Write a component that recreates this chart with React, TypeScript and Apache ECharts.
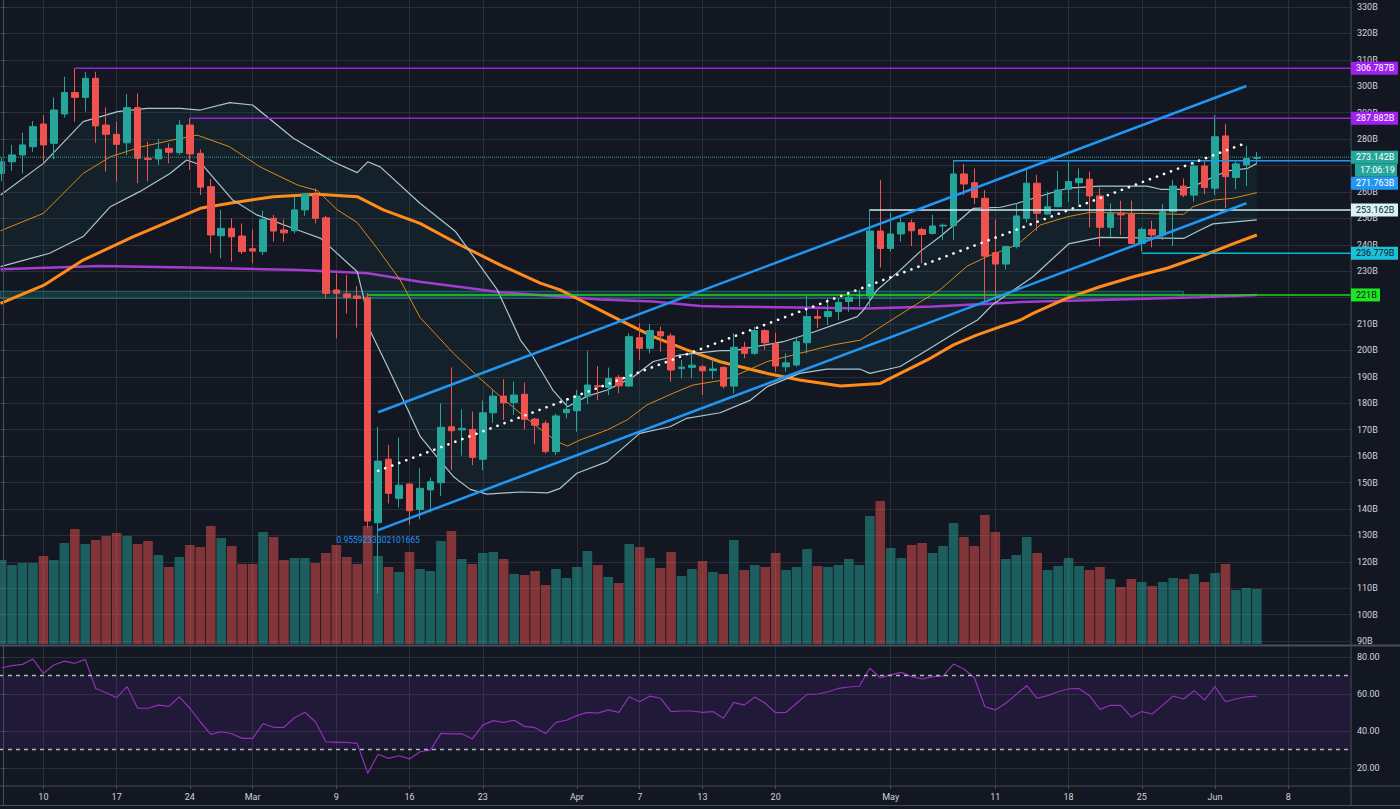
import React, { useEffect, useRef } from "react";
import * as echarts from "echarts";

// x = day index, 0 = 2020-02-06 (one candle per calendar day)
const opens = [
  267.0, 271.4, 274.0, 277.1, 285.7, 278.4, 289.5, 297.6, 295.8, 303.0,
  285.3, 281.8, 278.6, 291.9, 272.7, 272.5, 276.5, 274.9, 285.3, 274.6,
  262.0, 243.4, 246.2, 243.3, 238.5, 237.4, 250.0, 245.6, 245.3, 253.2,
  258.8, 250.2, 222.9, 221.4, 220.6, 220.0, 134.8, 158.8, 144.0, 149.4,
  139.8, 147.2, 149.9, 171.1, 169.9, 170.1, 158.8, 176.4, 182.7, 180.3,
  183.4, 174.0, 172.4, 161.7, 176.4, 177.2, 182.7, 186.6, 186.0, 189.8,
  186.5, 204.8, 200.8, 207.1, 205.5, 193.2, 193.6, 193.8, 192.4, 193.6,
  186.5, 201.2, 198.9, 207.5, 202.6, 193.8, 194.5, 202.9, 212.8, 212.8,
  214.7, 218.5, 220.7, 220.6, 245.2, 238.6, 244.1, 248.3, 245.8, 244.3,
  247.1, 247.2, 266.8, 263.5, 257.6, 237.0, 232.7, 239.3, 250.0, 263.3,
  251.6, 254.4, 261.0, 263.5, 264.8, 258.5, 246.6, 251.9, 251.6, 240.5,
  245.8, 243.7, 252.5, 262.2, 258.8, 269.8, 261.4, 281.2, 265.5, 270.2,
  272.7,
];
const closes = [
  271.4, 274.0, 277.8, 284.7, 277.8, 291.0, 297.6, 295.8, 303.0, 285.0,
  281.8, 278.0, 291.9, 272.7, 272.3, 276.1, 275.0, 285.3, 274.4, 261.8,
  243.7, 246.2, 243.0, 237.4, 237.6, 249.6, 245.2, 244.5, 253.2, 259.2,
  250.0, 221.6, 221.6, 220.1, 219.7, 135.4, 158.1, 145.9, 149.0, 139.3,
  147.8, 150.3, 170.9, 169.6, 170.5, 159.5, 176.4, 182.7, 180.2, 183.1,
  173.9, 171.7, 161.7, 175.2, 177.7, 182.7, 186.9, 186.3, 189.4, 186.6,
  205.2, 200.8, 207.5, 205.5, 192.6, 193.7, 194.4, 192.3, 193.0, 186.5,
  201.2, 198.9, 207.5, 202.9, 194.1, 195.3, 203.3, 212.8, 212.2, 214.7,
  218.2, 220.1, 220.9, 245.2, 238.6, 244.1, 248.3, 245.3, 243.9, 247.1,
  247.4, 266.8, 263.0, 257.9, 235.7, 232.7, 239.3, 250.9, 263.3, 251.9,
  254.4, 260.7, 263.9, 265.1, 258.5, 246.6, 251.9, 251.3, 240.5, 245.8,
  243.7, 252.5, 262.2, 258.8, 269.8, 261.7, 280.9, 265.8, 270.6, 272.7,
  273.1,
];
const lows = [
  264.0, 268.0, 267.0, 275.2, 271.4, 272.4, 288.2, 286.6, 290.4, 278.6,
  267.7, 263.9, 274.0, 263.3, 264.0, 270.2, 270.8, 274.0, 268.3, 258.8,
  236.8, 234.9, 233.6, 236.5, 233.0, 236.1, 241.2, 241.2, 244.3, 251.0,
  248.1, 219.7, 204.6, 214.0, 208.7, 133.0, 108.0, 142.1, 140.6, 134.0,
  136.0, 138.6, 144.9, 154.7, 160.2, 156.6, 154.7, 172.6, 173.7, 175.6,
  170.1, 164.6, 161.0, 160.4, 174.3, 169.2, 179.7, 181.2, 183.1, 183.8,
  186.2, 196.4, 198.9, 199.5, 188.2, 189.4, 189.4, 183.1, 189.1, 185.6,
  183.7, 197.0, 198.3, 200.2, 192.0, 192.0, 193.8, 198.9, 208.4, 209.6,
  211.5, 214.6, 216.6, 216.6, 231.4, 237.4, 241.2, 239.5, 233.0, 243.9,
  241.8, 241.8, 258.8, 255.4, 218.4, 218.4, 230.7, 238.6, 248.4, 245.3,
  251.3, 254.2, 256.3, 255.4, 246.6, 239.3, 243.0, 243.7, 240.3, 237.4,
  239.0, 241.8, 239.5, 258.0, 256.3, 259.2, 258.8, 253.8, 261.0, 262.2,
  270.8,
];
const highs = [
  273.0, 277.8, 282.4, 286.8, 289.1, 295.8, 303.6, 306.8, 305.5, 305.5,
  292.0, 286.6, 297.0, 297.3, 279.0, 280.0, 278.4, 287.2, 287.9, 276.1,
  264.8, 253.2, 250.0, 248.1, 245.8, 252.9, 251.3, 249.6, 258.2, 259.5,
  261.4, 250.9, 229.2, 228.6, 224.4, 221.7, 171.1, 164.2, 167.0, 149.7,
  155.4, 151.9, 180.0, 193.6, 177.7, 176.8, 181.0, 185.0, 189.1, 188.2,
  187.8, 174.5, 173.4, 176.0, 181.9, 185.0, 199.8, 194.1, 193.5, 190.7,
  206.5, 210.3, 210.0, 209.0, 206.5, 196.4, 198.9, 194.5, 196.6, 193.9,
  206.5, 203.3, 209.0, 208.0, 206.7, 198.9, 204.8, 220.6, 215.5, 219.7,
  219.7, 222.2, 223.1, 253.4, 264.5, 252.1, 250.4, 249.6, 246.5, 251.3,
  248.1, 272.1, 270.6, 268.9, 260.7, 249.6, 239.5, 255.7, 268.9, 266.4,
  260.1, 268.0, 271.5, 268.9, 267.7, 261.7, 255.7, 256.7, 256.7, 246.5,
  249.1, 255.4, 264.5, 265.1, 271.5, 271.5, 289.1, 285.7, 271.5, 277.4,
  275.2,
];
const volumes = [
  84, 79, 81, 81, 88, 84, 101, 115, 100, 104,
  108, 111, 108, 100, 103, 89, 77, 87, 99, 97,
  118, 106, 98, 80, 80, 112, 107, 84, 86, 86,
  81, 91, 99, 87, 80, 118, 88, 77, 72, 92,
  75, 73, 103, 113, 85, 80, 91, 92, 85, 70,
  69, 73, 59, 75, 66, 77, 93, 79, 67, 61,
  100, 97, 86, 76, 92, 68, 75, 83, 72, 70,
  104, 74, 79, 77, 91, 74, 77, 95, 78, 77,
  79, 85, 79, 128, 143, 96, 86, 99, 101, 91,
  98, 121, 107, 98, 129, 112, 85, 89, 107, 91,
  74, 78, 86, 78, 74, 77, 65, 57, 65, 62,
  58, 62, 66, 65, 70, 62, 71, 80, 54, 56,
  55,
];
const rsiValues = [
  74.2, 75.3, 76.0, 78.9, 71.2, 75.7, 77.8, 76.6, 78.7, 63.0,
  60.7, 58.0, 64.0, 52.3, 52.3, 54.0, 53.3, 58.5, 52.3, 45.0,
  38.2, 39.6, 38.5, 36.0, 36.0, 44.0, 42.0, 42.0, 47.2, 50.1,
  45.0, 34.2, 33.9, 33.9, 33.3, 17.1, 27.4, 25.2, 26.6, 24.9,
  28.8, 29.7, 38.7, 38.5, 38.5, 35.7, 43.2, 45.6, 44.7, 45.8,
  42.5, 41.8, 38.6, 44.7, 45.8, 48.3, 50.1, 49.7, 51.4, 50.1,
  58.5, 55.8, 58.9, 57.7, 50.5, 50.8, 50.8, 50.1, 50.5, 46.9,
  55.5, 54.0, 58.4, 55.0, 49.9, 50.1, 55.0, 59.8, 60.0, 61.2,
  63.0, 63.8, 64.2, 73.9, 68.8, 70.3, 71.7, 69.4, 68.1, 69.4,
  69.7, 76.2, 73.5, 68.8, 53.1, 51.4, 55.0, 59.8, 64.5, 57.7,
  59.1, 61.2, 62.7, 63.0, 59.1, 51.7, 53.9, 53.9, 47.6, 50.5,
  49.2, 54.0, 58.9, 57.3, 61.8, 56.8, 64.0, 55.8, 57.3, 58.5,
  58.9,
];

const dateTickIndex = [4, 11, 18, 24, 32, 39, 46, 55, 61, 67, 74, 85, 95, 102, 109, 116, 123];
const dateTickLabels = ["10", "17", "24", "Mar", "9", "16", "23", "Apr", "7", "13", "20", "May", "11", "18", "25", "Jun", "8"];
const priceTicks = [90, 100, 110, 120, 130, 140, 150, 160, 170, 180, 190, 200, 210, 220, 230, 240, 250, 260, 270, 280, 290, 300, 310, 320, 330];
// 270B sits fully under the last-price tags in the reference, so it carries no visible label
const priceLabelTicks = [90, 100, 110, 120, 130, 140, 150, 160, 170, 180, 190, 200, 210, 220, 230, 240, 250, 260, 280, 290, 300, 310, 320, 330];
const rsiTicks = [20, 40, 60, 80];

// indicator curves: [day index, value]
const bbUpper = [
  [-0.1, 258.8], [4.0, 270.8], [7.8, 286.6], [11.1, 290.4], [13.9, 291.6], [17.1, 291.6], [19.0, 291.0],
  [21.8, 293.8], [24.0, 292.9], [27.9, 280.3], [31.7, 271.4], [34.0, 267.3], [35.0, 271.4], [36.2, 269.5],
  [40.0, 255.7], [43.4, 245.0], [47.4, 222.9], [49.6, 203.9], [50.8, 197.6], [52.7, 185.0], [54.1, 178.7],
  [56.0, 182.7], [57.9, 185.0], [60.4, 190.0], [62.3, 195.8], [64.9, 198.3], [68.7, 199.9], [70.0, 199.9],
  [74.7, 203.3], [77.3, 206.5], [79.5, 209.6], [81.8, 212.8], [82.4, 215.3], [83.7, 222.9], [85.9, 230.4],
  [87.8, 237.4], [89.7, 243.0], [91.6, 249.4], [92.9, 253.8], [95.5, 254.2], [97.1, 255.7], [100.2, 259.5],
  [101.9, 261.4], [105.0, 262.2], [109.5, 262.2], [110.8, 261.0], [112.7, 261.0], [113.9, 262.0],
  [115.2, 264.5], [117.2, 268.0], [119.1, 268.9], [120.0, 270.8],
];
const bbLower = [
  [-0.1, 231.7], [4.6, 236.8], [7.8, 243.1], [10.4, 254.4], [13.2, 260.1], [16.1, 267.0], [17.7, 272.1],
  [19.3, 269.8], [22.1, 256.9], [24.4, 251.3], [28.5, 245.3], [30.5, 242.4], [34.0, 229.8], [34.6, 220.3],
  [35.2, 207.7], [36.9, 193.8], [38.4, 181.2], [40.0, 167.6], [41.6, 159.8], [43.2, 152.2], [44.8, 147.4],
  [46.4, 145.6], [49.6, 146.4], [52.2, 146.1], [53.4, 147.8], [55.0, 153.5], [57.9, 157.9], [61.0, 168.6],
  [63.9, 171.1], [65.5, 174.3], [68.7, 176.4], [71.6, 181.2], [73.2, 186.3], [76.3, 191.3], [78.9, 192.9],
  [82.1, 192.9], [83.0, 191.3], [85.9, 193.9], [88.5, 200.2], [91.6, 207.7], [93.3, 211.5], [94.8, 217.5],
  [98.6, 227.9], [102.0, 240.3], [105.0, 242.8], [113.0, 242.4], [114.3, 245.0], [115.8, 247.9], [120.0, 249.4],
];
const bbBasis = [
  [-0.1, 245.3], [4.0, 251.9], [7.8, 267.0], [10.4, 273.3], [13.2, 276.9], [16.4, 279.7], [18.7, 281.5],
  [21.8, 277.1], [24.7, 269.5], [28.3, 262.6], [30.2, 260.5], [32.1, 253.2], [34.0, 248.4], [35.9, 238.7],
  [38.1, 226.7], [40.0, 212.5], [43.2, 198.9], [45.7, 189.5], [47.7, 182.5], [49.6, 176.2], [51.2, 171.1],
  [53.1, 165.5], [54.1, 163.8], [55.3, 166.1], [57.9, 169.9], [59.8, 173.7], [61.7, 179.4], [64.2, 183.8],
  [66.1, 186.9], [68.7, 188.6], [69.9, 190.0], [73.2, 195.8], [76.3, 198.9], [79.5, 202.1], [82.1, 203.9],
  [84.6, 210.3], [87.1, 216.6], [89.7, 222.9], [92.3, 231.9], [94.2, 235.5], [97.1, 240.0], [99.3, 247.5],
  [101.9, 250.6], [104.1, 252.3], [108.2, 251.9], [113.0, 251.5], [113.9, 254.4], [115.8, 256.9],
  [117.7, 257.6], [120.0, 259.7],
];
const ma50 = [
  [-0.1, 217.8], [4.0, 224.6], [7.8, 234.2], [12.6, 243.1], [16.4, 249.4], [19.0, 253.8], [22.1, 255.9],
  [26.0, 258.2], [30.2, 259.1], [34.0, 258.2], [36.5, 253.2], [40.0, 248.1], [43.8, 240.0], [47.7, 232.3],
  [51.5, 225.5], [53.4, 222.9], [59.1, 211.5], [62.3, 205.2], [65.5, 200.2], [68.7, 195.7], [73.2, 191.3],
  [76.3, 188.8], [80.2, 186.5], [84.0, 187.5], [85.9, 191.3], [88.5, 196.4], [91.0, 202.1], [93.2, 205.8],
  [95.5, 209.0], [97.4, 211.5], [98.6, 214.0], [101.8, 219.7], [105.0, 224.1], [108.2, 227.9], [111.4, 231.1],
  [114.6, 235.5], [117.7, 240.3], [120.0, 243.7],
];
const ma200 = [
  [-0.1, 230.7], [9.4, 232.0], [19.0, 231.3], [28.5, 230.4], [35.0, 229.2], [40.0, 226.0], [47.7, 222.0],
  [57.2, 219.3], [62.3, 218.5], [66.8, 216.8], [68.7, 216.6], [82.7, 215.9], [89.1, 216.6], [97.4, 218.3],
  [105.0, 219.1], [114.6, 220.1], [120.0, 221.0],
];

const channelUpper = [[36, 176.6], [119, 300.1]];
const channelLower = [[36, 132.0], [119, 255.7]];
const regression = [[36, 154.4], [119, 278.6]];
const regressionLabel = "0.9559233302101665";
const regressionLabelPrice = 128.3;

const levelValues = [306.787, 287.882, 273.142, 271.763, 253.162, 236.779, 221];
const levelStart = [7, 18, -0.15, 91, 83, 109, 35];
const levelLabels = ["306.787B", "287.882B", "273.142B", "271.763B", "253.162B", "236.779B", "221B"];
const countdownLabel = "17:06:19";
const zoneLow = 219.7;
const zoneHigh = 222.4;
const zoneEnd = 113;

export default function App() {
  const ref = useRef<HTMLDivElement>(null);

  useEffect(() => {
    if (!ref.current) return;
    const chart = echarts.init(ref.current, null, { renderer: "svg" });

    const X_MIN = -0.15;
    const X_MAX = 129;
    const GRID = "#2a2e39";
    const EDGE = "#4a4e5a";
    const TXT = "#d1d4dc";
    const UP = "#26a69a";
    const DOWN = "#ef5350";
    const FONT = "Roboto, 'Noto Sans', sans-serif";
    const levelColors = ["#9326d9", "#9326d9", "#26a69a", "#2196f3", "#cdeef4", "#00bcd4", "#22d322"];
    const tagBg = ["#a020f0", "#a020f0", "#26a69a", "#2196f3", "#d6f3f8", "#1cc0d8", "#1fe61f"];
    const tagFg = ["#ffffff", "#ffffff", "#ffffff", "#ffffff", "#131722", "#131722", "#131722"];

    const candleData = opens.map((o, i) => [i, o, closes[i], lows[i], highs[i]]);
    const volumeData = volumes.map((v, i) => ({
      value: [i, v],
      itemStyle: { color: closes[i] >= opens[i] ? "rgba(38,166,154,0.5)" : "rgba(239,83,80,0.5)" },
    }));
    const rsiData = rsiValues.map((v, i) => [i, v]);
    const dateLabel = (v: number) => {
      const k = dateTickIndex.indexOf(Math.round(v));
      return k >= 0 ? dateTickLabels[k] : "";
    };

    const line = (data: number[][], color: string, width: number, extraStyle: any = {}, z = 4) => ({
      type: "line",
      xAxisIndex: 0,
      yAxisIndex: 0,
      data,
      symbol: "none",
      silent: true,
      z,
      lineStyle: { color, width, ...extraStyle },
    });

    const labelStyle = { color: TXT, fontSize: 9, fontFamily: FONT };

    const option: any = {
      animation: false,
      backgroundColor: "#131722",
      textStyle: { fontFamily: FONT },
      grid: [
        { left: 0, right: 49, top: 0, bottom: 164 },
        { left: 0, right: 49, top: 344, bottom: 165 },
        { left: 0, right: 49, top: 646, bottom: 23 },
      ],
      xAxis: [
        {
          type: "value", gridIndex: 0, min: X_MIN, max: X_MAX,
          axisLine: { show: false },
          axisTick: { show: false, customValues: dateTickIndex },
          axisLabel: { show: false, customValues: dateTickIndex },
          splitLine: { show: true, lineStyle: { color: GRID, width: 1 } },
        },
        { type: "value", gridIndex: 1, min: X_MIN, max: X_MAX, show: false },
        {
          type: "value", gridIndex: 2, min: X_MIN, max: X_MAX, position: "bottom",
          axisLine: { show: false },
          axisTick: { show: true, length: 3, lineStyle: { color: EDGE }, customValues: dateTickIndex },
          axisLabel: { ...labelStyle, margin: 6, customValues: dateTickIndex, formatter: dateLabel },
          splitLine: { show: true, lineStyle: { color: GRID, width: 1 } },
        },
      ],
      yAxis: [
        {
          type: "value", gridIndex: 0, position: "right", min: 88.49, max: 332.65,
          axisLine: { show: false },
          axisTick: { show: true, length: 4, lineStyle: { color: EDGE }, customValues: priceTicks },
          axisLabel: { ...labelStyle, margin: 6, customValues: priceLabelTicks, formatter: (v: number) => `${v}B` },
          splitLine: { show: true, lineStyle: { color: GRID, width: 1 } },
        },
        { type: "value", gridIndex: 1, min: 0, max: 300, show: false },
        {
          type: "value", gridIndex: 2, position: "right", min: 10.27, max: 85.95,
          axisLine: { show: false },
          axisTick: { show: true, length: 4, lineStyle: { color: EDGE }, customValues: rsiTicks },
          axisLabel: { ...labelStyle, margin: 6, customValues: rsiTicks, formatter: (v: number) => v.toFixed(2) },
          splitLine: { show: true, lineStyle: { color: GRID, width: 1 } },
        },
      ],
      series: [
        // volume
        {
          type: "bar", xAxisIndex: 1, yAxisIndex: 1, data: volumeData, barWidth: 9.6, silent: true, z: 1,
        },
        // support zone rectangle
        {
          type: "custom", xAxisIndex: 0, yAxisIndex: 0, silent: true, z: 1,
          data: [[X_MIN, zoneLow, zoneEnd, zoneHigh]],
          renderItem: (_p: any, api: any) => {
            const a = api.coord([api.value(0), api.value(3)]);
            const b = api.coord([api.value(2), api.value(1)]);
            return {
              type: "rect",
              shape: { x: a[0], y: a[1], width: b[0] - a[0], height: b[1] - a[1] },
              style: { fill: "rgba(38,166,154,0.22)", stroke: "rgba(38,166,154,0.55)", lineWidth: 1 },
            };
          },
        },
        // Bollinger fill
        {
          type: "custom", xAxisIndex: 0, yAxisIndex: 0, silent: true, z: 1,
          data: [[0, 250]],
          renderItem: (p: any, api: any) => {
            if (p.dataIndex !== 0) return null;
            const pts: number[][] = [];
            bbUpper.forEach((d) => pts.push(api.coord(d)));
            for (let k = bbLower.length - 1; k >= 0; k--) pts.push(api.coord(bbLower[k]));
            return { type: "polygon", shape: { points: pts }, style: { fill: "rgba(38,166,154,0.07)" } };
          },
        },
        line(ma200, "#a53ccf", 2.5, {}, 2),
        line(ma50, "#ff8c1a", 3, {}, 2),
        line(bbBasis, "#e0861a", 1, {}, 2),
        line(bbUpper, "#a9c6cf", 1.2, {}, 2),
        line(bbLower, "#a9c6cf", 1.2, {}, 2),
        // candles
        {
          type: "candlestick", xAxisIndex: 0, yAxisIndex: 0, data: candleData, barWidth: 7, silent: true, z: 3,
          itemStyle: { color: UP, color0: DOWN, borderColor: UP, borderColor0: DOWN, borderWidth: 1 },
        },
        // horizontal levels
        ...levelValues.map((v, k) =>
          line([[levelStart[k], v], [X_MAX, v]], levelColors[k], k === 2 ? 1 : 1.5, k === 2 ? { type: "dotted" } : {}, 4)
        ),
        // channel
        line(channelUpper, "#2196f3", 2.5, {}, 5),
        line(channelLower, "#2196f3", 2.5, {}, 5),
        line(regression, "#ffffff", 2.6, { type: [0.1, 7.4], cap: "round" }, 6),
        // RSI
        {
          type: "line", xAxisIndex: 2, yAxisIndex: 2, data: rsiData, symbol: "none", silent: true, z: 4,
          lineStyle: { color: "#9230b8", width: 1.2 },
          markArea: {
            silent: true,
            itemStyle: { color: "rgba(120,40,200,0.13)" },
            data: [[{ yAxis: 30 }, { yAxis: 70 }]],
          },
          markLine: {
            silent: true,
            symbol: ["none", "none"],
            label: { show: false },
            lineStyle: { color: "#b5b8c0", width: 1.4, type: [4, 4] },
            data: [{ yAxis: 70 }, { yAxis: 30 }],
          },
        },
      ],
    };

    chart.setOption(option);

    // overlay: price tags, label, frame lines (positions from the chart's own scales)
    const py = (v: number) => chart.convertToPixel({ yAxisIndex: 0 }, v) as number;
    const graphics: any[] = [];
    const TAG_X = 1351;
    const TAG_H = 13;
    const addTag = (y: number, text: string, bg: string, fg: string, w = 47, x = TAG_X) => {
      graphics.push({
        type: "rect", z: 100, silent: true,
        shape: { x, y: y - TAG_H / 2, width: w, height: TAG_H },
        style: { fill: bg },
      });
      graphics.push({
        type: "text", z: 101, silent: true,
        style: {
          text, x: x + 5, y, fill: fg, font: `9px ${FONT}`,
          align: "left", verticalAlign: "middle", textAlign: "left", textVerticalAlign: "middle",
        },
      });
    };
    levelValues.forEach((v, k) => {
      if (k === 3) return;
      addTag(py(v), levelLabels[k], tagBg[k], tagFg[k], k === 6 ? 29 : 47);
    });
    const curY = py(levelValues[2]);
    const cdY = curY + TAG_H;
    addTag(cdY, countdownLabel, "#26a69a", "#ffffff", 42, 1355);
    addTag(cdY + TAG_H, levelLabels[3], tagBg[3], tagFg[3]);

    const lp = chart.convertToPixel({ gridIndex: 0 }, [channelLower[0][0], regressionLabelPrice]) as number[];
    graphics.push({
      type: "text", z: 101, silent: true,
      style: {
        text: regressionLabel, x: lp[0], y: lp[1], fill: "#2196f3", font: `8.5px ${FONT}`,
        align: "center", verticalAlign: "middle", textAlign: "center", textVerticalAlign: "middle",
      },
    });

    const frame = (x1: number, y1: number, x2: number, y2: number, w = 1) =>
      graphics.push({
        type: "line", z: 90, silent: true,
        shape: { x1, y1, x2, y2 },
        style: { stroke: EDGE, lineWidth: w },
      });
    frame(3.5, 0, 3.5, 806);
    frame(1351, 0, 1351, 806);
    frame(0, 645.5, 1400, 645.5, 2);
    frame(0, 786, 1400, 786);
    frame(0, 805.5, 1400, 805.5);

    chart.setOption({ graphic: graphics });

    return () => chart.dispose();
  }, []);

  return (
    <div
      ref={ref}
      style={{ position: "fixed", left: 0, top: 0, width: 1400, height: 809, background: "#131722" }}
    />
  );
}
